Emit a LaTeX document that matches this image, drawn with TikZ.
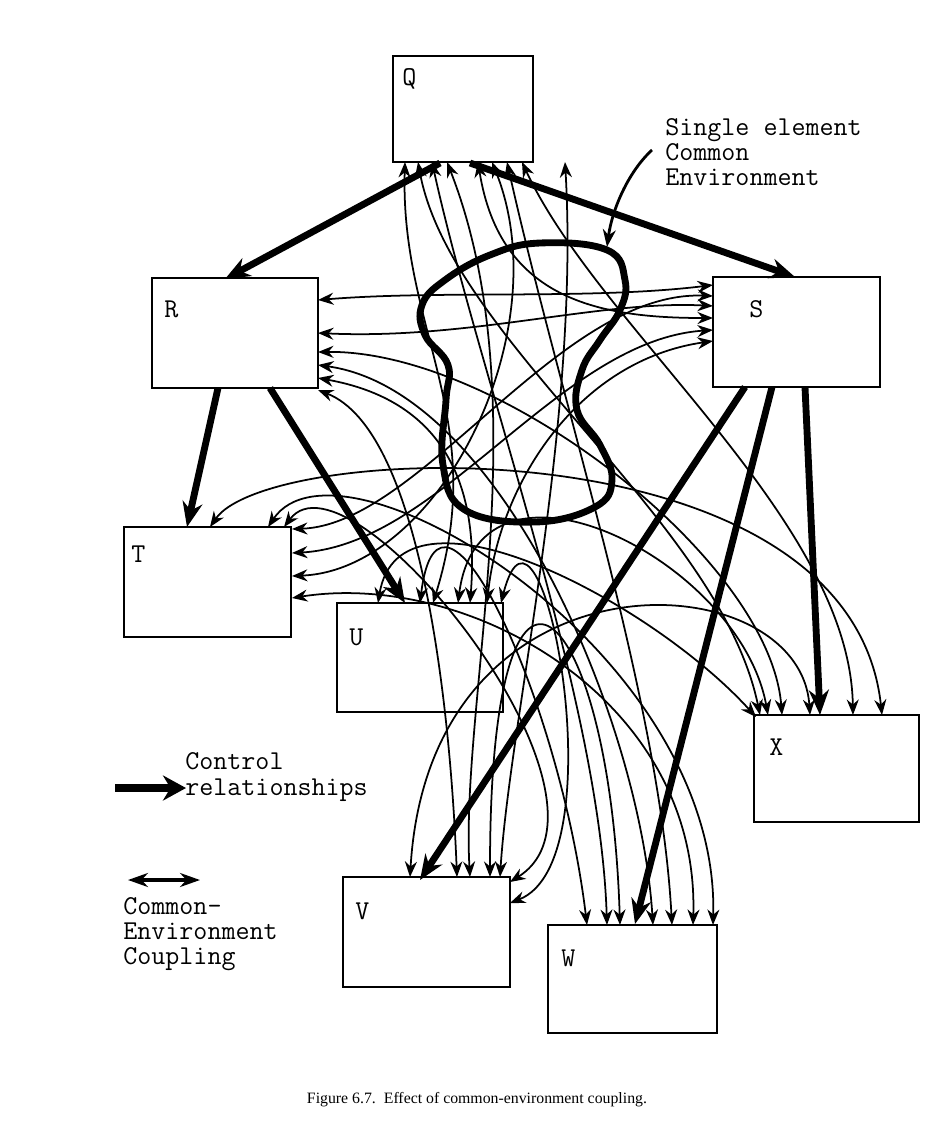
\documentclass[tikz,border=0pt]{standalone}
\usepackage{fontspec}
\newfontfamily\capfont{Liberation Serif}
\usetikzlibrary{arrows.meta}
\begin{document}
\begin{tikzpicture}[x=0.02cm,y=-0.02cm,
  box/.style={draw, line width=1.1pt, inner sep=0pt, outer sep=0pt},
  lab/.style={font=\ttfamily\fontsize{15.5}{15.5}\selectfont, inner sep=0pt, anchor=base west, text depth=0pt},
  ce/.style={line width=1pt, {Stealth[length=3.1mm,width=2.4mm]}-{Stealth[length=3.1mm,width=2.4mm]}},
  ctrl/.style={line width=3.9pt, -{Stealth[length=5mm,width=4mm]}},
  blob/.style={line width=3.9pt, line join=round}]
\useasboundingbox (0,0) rectangle (946,1144);
% boxes
\node[box, minimum width=2.8cm, minimum height=2.12cm] (Q) at (463,109) {};
\node[box, minimum width=3.32cm, minimum height=2.2cm] (R) at (235,333) {};
\node[box, minimum width=3.34cm, minimum height=2.2cm] (S) at (796.5,332) {};
\node[box, minimum width=3.34cm, minimum height=2.2cm] (T) at (207.5,582) {};
\node[box, minimum width=3.32cm, minimum height=2.18cm] (U) at (420,657.5) {};
\node[box, minimum width=3.3cm, minimum height=2.14cm] (X) at (836.5,768.5) {};
\node[box, minimum width=3.34cm, minimum height=2.2cm] (V) at (426.5,932) {};
\node[box, minimum width=3.38cm, minimum height=2.16cm] (W) at (632.5,979) {};
% labels
\node[lab] (Ql) at (402,85) {Q};
\node[lab] (Rl) at (164,317) {R};
\node[lab] (Sl) at (749,317) {S};
\node[lab] (Tl) at (131,562) {T};
\node[lab] (Ul) at (349,645) {U};
\node[lab] (Xl) at (769,755) {X};
\node[lab] (Vl) at (355,919) {V};
\node[lab] (Wl) at (561,966) {W};
% endpoints
\coordinate (q1) at (405,162); \coordinate (q2) at (418,162); \coordinate (q3) at (432,162);
\coordinate (q4) at (447,162); \coordinate (q5) at (478,162); \coordinate (q6) at (492,162);
\coordinate (q7) at (507,162); \coordinate (q8) at (522,162); \coordinate (q9) at (565,162);
\coordinate (r1) at (318,300); \coordinate (r2) at (318,333); \coordinate (r3) at (318,352);
\coordinate (r4) at (318,365); \coordinate (r5) at (318,378); \coordinate (r6) at (318,390);
\coordinate (s1) at (713,285); \coordinate (s2) at (713,296); \coordinate (s3) at (713,306);
\coordinate (s4) at (713,318); \coordinate (s5) at (713,330); \coordinate (s6) at (713,341);
\coordinate (t1) at (210,527); \coordinate (t2) at (268,527); \coordinate (t3) at (284,527);
\coordinate (t4) at (292,529); \coordinate (t5) at (292,553); \coordinate (t6) at (292,576);
\coordinate (t7) at (292,598);
\coordinate (u1) at (378,603); \coordinate (u2) at (420,603); \coordinate (u3) at (433,603);
\coordinate (u4) at (458,603); \coordinate (u5) at (470,603); \coordinate (u6) at (487,603);
\coordinate (u7) at (501,603);
\coordinate (x1) at (756,717); \coordinate (x2) at (760,715); \coordinate (x3) at (768,715);
\coordinate (x4) at (782,715); \coordinate (x5) at (810,715); \coordinate (x6) at (853,715);
\coordinate (x7) at (882,715);
\coordinate (v1) at (410,877); \coordinate (v2) at (457,877); \coordinate (v3) at (470,877);
\coordinate (v4) at (490,877); \coordinate (v5) at (500,877); \coordinate (v6) at (510,882);
\coordinate (v7) at (510,903);
\coordinate (w1) at (587,925); \coordinate (w2) at (607,925); \coordinate (w3) at (620,925);
\coordinate (w4) at (653,925); \coordinate (w5) at (672,925); \coordinate (w6) at (693,925);
\coordinate (w7) at (713,925);
% common-environment coupling curves
\draw[ce] (q1) .. controls (400,330) and (490,420) .. (u3);
\draw[ce] (q2) .. controls (450,340) and (720,520) .. (x2);
\draw[ce] (q3) .. controls (480,380) and (600,700) .. (w2);
\draw[ce] (q4) .. controls (540,400) and (460,700) .. (v3);
\draw[ce] (q5) .. controls (500,300) and (600,318) .. (s4);
\draw[ce] (q6) .. controls (560,330) and (440,570) .. (t6);
\draw[ce] (q7) .. controls (560,400) and (660,700) .. (w5);
\draw[ce] (q8) .. controls (600,330) and (850,520) .. (x6);
\draw[ce] (q9) .. controls (580,420) and (510,720) .. (v5);
\draw[ce] (r1) .. controls (440,290) and (590,300) .. (s1);
\draw[ce] (r2) .. controls (470,340) and (600,300) .. (s3);
\draw[ce] (r3) .. controls (500,350) and (770,560) .. (x4);
\draw[ce] (r4) .. controls (500,390) and (640,720) .. (w4);
\draw[ce] (r5) .. controls (440,400) and (480,480) .. (u5);
\draw[ce] (r6) .. controls (420,430) and (450,700) .. (v2);
\draw[ce] (s2) .. controls (560,290) and (420,525) .. (t4);
\draw[ce] (s5) .. controls (560,340) and (440,545) .. (t5);
\draw[ce] (s6) .. controls (580,360) and (500,480) .. (u6);
\draw[ce] (t1) .. controls (270,440) and (850,420) .. (x7);
\draw[ce] (t2) .. controls (340,420) and (720,650) .. (w7);
\draw[ce] (t3) .. controls (350,440) and (640,800) .. (v6);
\draw[ce] (t7) .. controls (470,570) and (700,700) .. (w6);
\draw[ce] (u1) .. controls (400,470) and (650,600) .. (x1);
\draw[ce] (u2) .. controls (440,440) and (560,700) .. (w1);
\draw[ce] (u4) .. controls (480,430) and (740,560) .. (x3);
\draw[ce] (u7) .. controls (540,450) and (620,860) .. (v7);
\draw[ce] (v1) .. controls (430,540) and (800,560) .. (x5);
\draw[ce] (v4) .. controls (490,480) and (610,600) .. (w3);
% common environment blob
\draw[blob] plot[smooth cycle, tension=0.7] coordinates {(540,243) (607,250) (625,280) (620,310) (600,340) (582,370) (577,410) (600,445) (612,480) (595,507) (535,522) (465,510) (443,465) (446,400) (448,365) (425,335) (422,305) (445,280) (490,255)};
% control relationships
\draw[ctrl] (440,163) -- (225,279);
\draw[ctrl] (470,163) -- (795,277);
\draw[ctrl] (218,388) -- (187,527);
\draw[ctrl] (270,388) -- (405,603);
\draw[ctrl] (745,387) -- (420,880);
\draw[ctrl] (772,387) -- (635,924);
\draw[ctrl] (805,387) -- (820,715);
% annotation
\node[lab] (se1) at (665,135) {Single element};
\node[lab] (se2) at (665,160) {Common};
\node[lab] (se3) at (665,185) {Environment};
\coordinate (ann) at (652,150);
\coordinate (annend) at (607,247);
\draw[line width=1.6pt, -{Stealth[length=3.5mm,width=2.6mm]}] (ann) .. controls (628,172) and (612,210) .. (annend);
% legend
\node[lab] (lc1) at (185,769) {Control};
\node[lab] (lc2) at (185,795) {relationships};
\coordinate (lca) at (115,788);
\coordinate (lcb) at (186,788);
\draw[line width=4.8pt, -{Stealth[length=4.6mm,width=5mm]}] (lca) -- (lcb);
\coordinate (lda) at (128,880);
\coordinate (ldb) at (200,880);
\draw[line width=1.8pt, {Stealth[length=4mm,width=2.8mm]}-{Stealth[length=4mm,width=2.8mm]}] (lda) -- (ldb);
\node[lab] (le1) at (123,914) {Common-};
\node[lab] (le2) at (123,939) {Environment};
\node[lab] (le3) at (123,964) {Coupling};
% caption
\node[font=\capfont\fontsize{9}{11}\selectfont, inner sep=0pt] (cap) at (477,1100) {Figure 6.7.\ \ Effect of common-environment coupling.};
\end{tikzpicture}
\end{document}
